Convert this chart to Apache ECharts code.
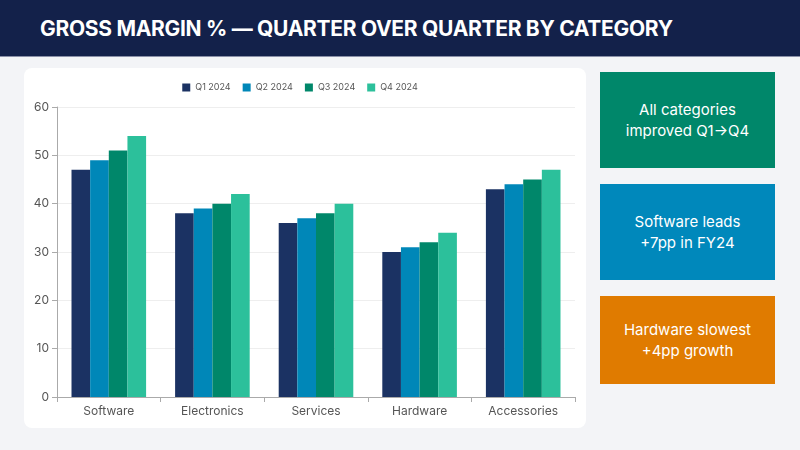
<!DOCTYPE html>
<html><head><meta charset="utf-8">
<script src="https://cdn.jsdelivr.net/npm/echarts@6/dist/echarts.min.js"></script>
<style>
body{margin:0;width:800px;height:450px;background:#f3f4f7;font-family:Inter,"Noto Sans",sans-serif;position:relative;overflow:hidden}
.hdr{position:absolute;left:0;top:0;width:800px;height:57px;background:#13214a;color:#fff;font-family:Inter;font-weight:700;font-size:21px;line-height:57px;padding-left:40px;box-sizing:border-box;letter-spacing:-0.3px;border-bottom:1px solid #8a90a8}
.card{position:absolute;left:24px;top:68px;width:562px;height:360px;background:#fff;border-radius:8px}
#c{position:absolute;left:0;top:57px;width:600px;height:393px}
.box{position:absolute;left:600px;width:175px;color:#fff;font-family:Inter,"Noto Sans",sans-serif;font-size:15px;line-height:21px;text-align:center;display:flex;align-items:center;justify-content:center}
</style></head><body>
<div class="hdr">GROSS MARGIN % — QUARTER OVER QUARTER BY CATEGORY</div>
<div class="card"></div>
<div id="c"></div>
<div class="box" style="top:72px;height:96px;background:#00876a">All categories<br>improved Q1→Q4</div>
<div class="box" style="top:184px;height:96px;background:#0088bb">Software leads<br>+7pp in FY24</div>
<div class="box" style="top:296px;height:88px;background:#e07b00">Hardware slowest<br>+4pp growth</div>
<script>
const categories=["Software","Electronics","Services","Hardware","Accessories"];
const seriesNames=["Q1 2024","Q2 2024","Q3 2024","Q4 2024"];
const q1=[47,38,36,30,43];
const q2=[49,39,37,31,44];
const q3=[51,40,38,32,45];
const q4=[54,42,40,34,47];
const colors=["#1b3263","#0087b8","#00876a","#2cc09b"];
const vals=[q1,q2,q3,q4];
const ch=echarts.init(document.getElementById('c'));
ch.setOption({
 animation:false,
 legend:{top:21,left:'center',itemWidth:8,itemHeight:8,itemGap:12,icon:'rect',textStyle:{fontSize:9,color:'#555',fontFamily:'Inter'}},
 grid:{left:57,right:25,top:50,bottom:53},
 xAxis:{type:'category',data:categories,axisLine:{lineStyle:{color:'#aaa'}},axisTick:{show:true,lineStyle:{color:'#aaa'}},axisLabel:{fontSize:12,color:'#555',margin:8,fontFamily:'Inter'}},
 yAxis:{type:'value',min:0,max:60,interval:10,axisLine:{show:true,lineStyle:{color:'#aaa'}},axisTick:{show:true,lineStyle:{color:'#aaa'}},splitLine:{lineStyle:{color:'#eee'}},axisLabel:{fontSize:12,color:'#555',fontFamily:'Inter'}},
 series:seriesNames.map((n,i)=>({name:n,type:'bar',data:vals[i],itemStyle:{color:colors[i]},barGap:'0%',barCategoryGap:'28%'}))
});
</script></body></html>
